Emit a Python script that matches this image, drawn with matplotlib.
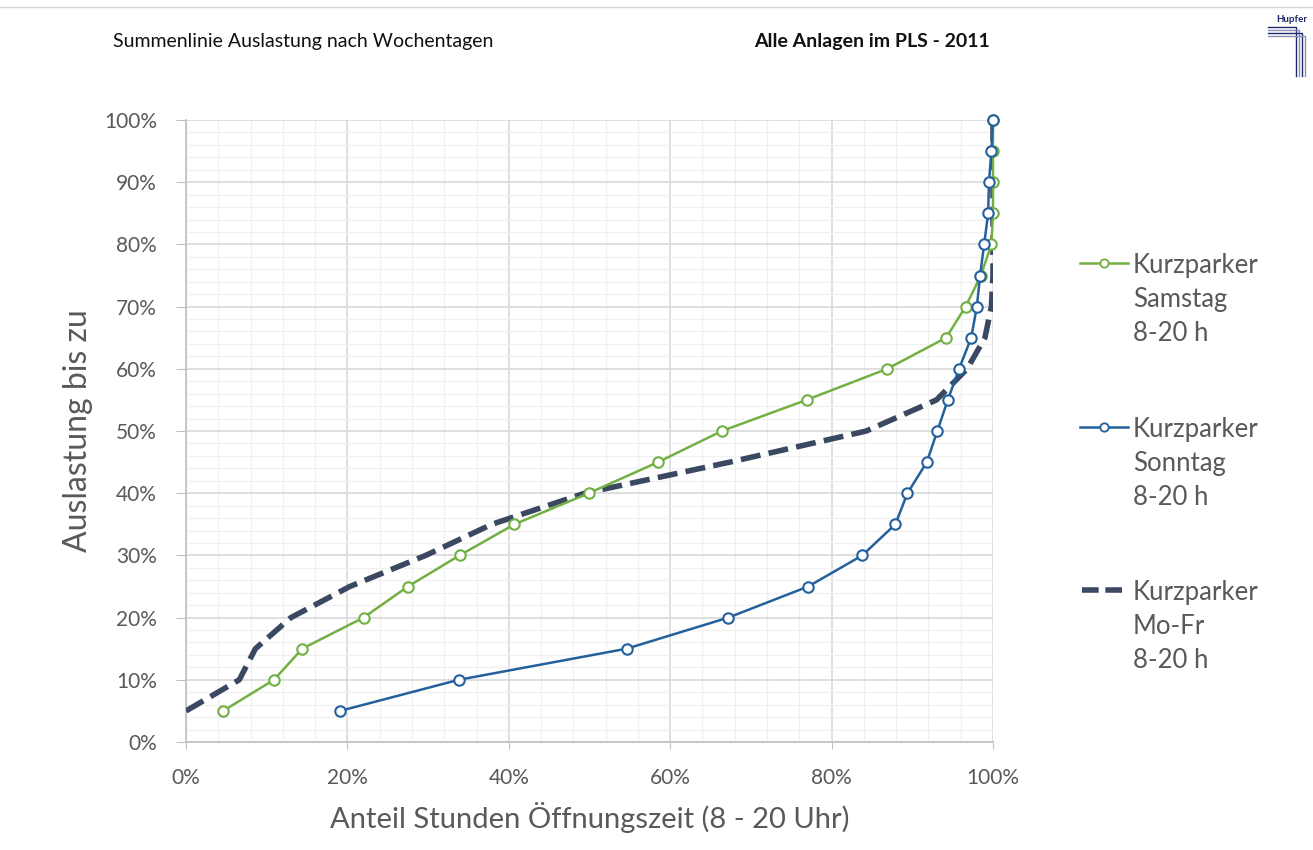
import matplotlib
matplotlib.use("Agg")
import matplotlib.pyplot as plt
from matplotlib.lines import Line2D
from matplotlib.ticker import MultipleLocator, FuncFormatter

# ---------------- data ----------------
auslastung = [5, 10, 15, 20, 25, 30, 35, 40, 45, 50, 55, 60, 65, 70, 75, 80, 85, 90, 95, 100]

samstag = [4.6, 10.9, 14.4, 22.0, 27.5, 33.9, 40.7, 49.9, 58.5, 66.4, 76.9, 86.9,
           94.2, 96.6, 98.5, 99.8, 100, 100, 100, 100]
sonntag = [19.1, 33.8, 54.6, 67.2, 77.1, 83.8, 87.9, 89.4, 91.8, 93.1, 94.4, 95.8,
           97.3, 98.0, 98.4, 98.9, 99.4, 99.5, 99.8, 100]
mofr = [0.0, 6.6, 8.6, 13.0, 20.3, 29.7, 37.9, 49.4, 67.4, 84.3, 93.0, 96.8,
        99.0, 99.8, 100, 100, 100, 100, 100, 100]

legend_labels = ["Kurzparker\nSamstag\n8-20 h",
                 "Kurzparker\nSonntag\n8-20 h",
                 "Kurzparker\nMo-Fr\n8-20 h"]

title_left = "Summenlinie Auslastung nach Wochentagen"
title_right = "Alle Anlagen im PLS - 2011"
xlabel = "Anteil Stunden Öffnungszeit (8 - 20 Uhr)"
ylabel = "Auslastung bis zu"

# ---------------- style ----------------
W, H = 1313, 850
GREEN = "#72B043"
BLUE = "#24609C"
DARK = "#3A4862"
TXT = "#595959"
FONT = "Lato"

plt.rcParams["font.family"] = [FONT, "DejaVu Sans"]

fig = plt.figure(figsize=(W / 100, H / 100), dpi=100)
fig.patch.set_facecolor("white")


def fx(px):
    return px / W


def fy(py):
    return 1 - py / H


ax = fig.add_axes([fx(186), fy(742), fx(993) - fx(186), fy(120) - fy(742)])
ax.set_xlim(0, 100)
ax.set_ylim(0, 100)

ax.xaxis.set_major_locator(MultipleLocator(20))
ax.xaxis.set_minor_locator(MultipleLocator(4))
ax.yaxis.set_major_locator(MultipleLocator(10))
ax.yaxis.set_minor_locator(MultipleLocator(2))
ax.grid(which="major", color="#D9D9D9", lw=1.2)
ax.grid(which="minor", color="#F0F0F0", lw=0.9)
ax.set_axisbelow(True)

pct = FuncFormatter(lambda v, p: f"{int(round(v))}%")
ax.xaxis.set_major_formatter(pct)
ax.yaxis.set_major_formatter(pct)

for s in ["top", "right"]:
    ax.spines[s].set_visible(False)
for s in ["left", "bottom"]:
    ax.spines[s].set_color("#BFBFBF")
    ax.spines[s].set_linewidth(1.2)

ax.tick_params(axis="y", which="major", length=7, color="#BFBFBF", pad=14,
               labelsize=15, labelcolor=TXT)
ax.tick_params(axis="x", which="major", length=5, color="#BFBFBF", pad=14,
               labelsize=15, labelcolor=TXT)
ax.tick_params(which="minor", length=0)

# series
ax.plot(mofr, auslastung, color=DARK, lw=4.0, dashes=(3.6, 1.5),
        solid_capstyle="butt", dash_capstyle="butt", zorder=3)
ax.plot(samstag, auslastung, color=GREEN, lw=1.8, marker="o", ms=7.5,
        mfc="white", mec=GREEN, mew=1.5, zorder=4, clip_on=False)
ax.plot(sonntag, auslastung, color=BLUE, lw=1.8, marker="o", ms=7.5,
        mfc="white", mec=BLUE, mew=1.5, zorder=5, clip_on=False)

ax.set_xlabel(xlabel, fontsize=21, color=TXT, labelpad=10)
ax.set_ylabel(ylabel, fontsize=23, color=TXT, labelpad=8)

# titles
fig.text(fx(113), fy(42), title_left, fontsize=14, color="#111111",
         ha="left", va="center")
fig.text(fx(990), fy(42), title_right, fontsize=14, color="#111111",
         ha="right", va="center", fontweight="bold")

# manual legend (handle aligned with first text line)
entries = [
    (GREEN, dict(lw=1.8, marker="o", ms=6, mfc="white", mec=GREEN, mew=1.3), 263),
    (BLUE, dict(lw=1.8, marker="o", ms=6, mfc="white", mec=BLUE, mew=1.3), 427),
    (DARK, dict(lw=4.0, dashes=(3.0, 1.2)), 590),
]
for (col, kw, ypx), lab in zip(entries, legend_labels):
    if "marker" in kw:
        fig.add_artist(Line2D([fx(1080), fx(1128)], [fy(ypx), fy(ypx)], color=col,
                              lw=kw["lw"], transform=fig.transFigure))
        fig.add_artist(Line2D([fx(1104)], [fy(ypx)], color=col, marker="o",
                              ms=kw["ms"], mfc="white", mec=col, mew=kw["mew"],
                              transform=fig.transFigure))
    else:
        fig.add_artist(Line2D([fx(1082), fx(1128)], [fy(ypx), fy(ypx)], color=col,
                              lw=kw["lw"], dashes=kw["dashes"],
                              transform=fig.transFigure))
    fig.text(fx(1133), fy(ypx - 10), lab, fontsize=18.5, color=TXT, ha="left",
             va="top", linespacing=1.45)

# logo (top right)
fig.text(fx(1276), fy(19), "Hupfer", fontsize=7, color="#1F2A6B",
         fontweight="bold", ha="left", va="center")
for i, c in enumerate(["#1F2A6B", "#8A8FB5", "#1F2A6B", "#8A8FB5"]):
    off = i * 3
    fig.add_artist(Line2D([fx(1268), fx(1296 + off), fx(1296 + off)],
                          [fy(27 + off), fy(27 + off), fy(76)],
                          color=c, lw=1.0, transform=fig.transFigure))

# faint slide frame
fig.add_artist(Line2D([0, 1], [fy(7), fy(7)], color="#D9D9D9", lw=1,
                      transform=fig.transFigure))

fig.savefig("out.png", dpi=100, facecolor="white")
